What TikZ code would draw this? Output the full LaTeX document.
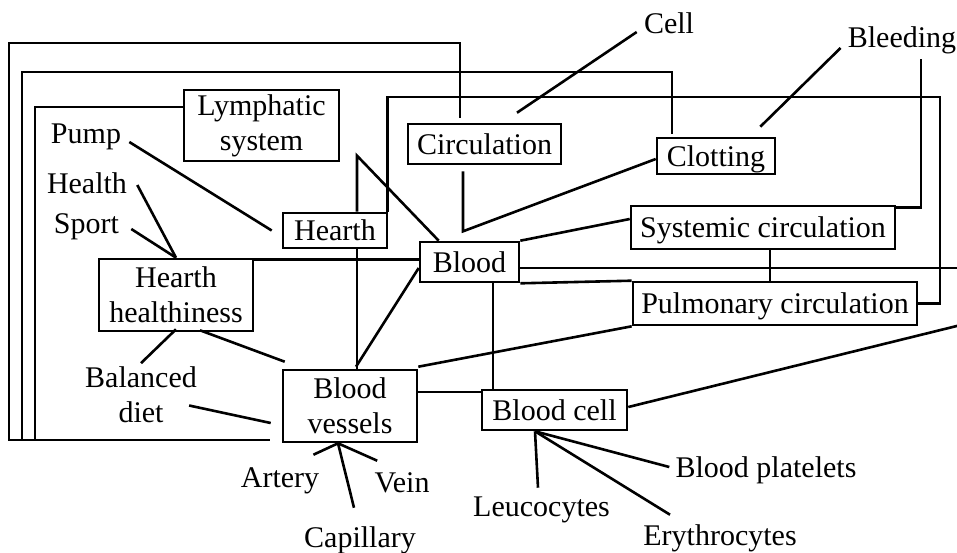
\documentclass[tikz,border=0pt]{standalone}
\usepackage{fontspec}
\setmainfont{Liberation Serif}
\usetikzlibrary{calc}

\begin{document}
\begin{tikzpicture}[x=0.5pt,y=-0.5pt,line width=1.3pt,
  box/.style={draw,line width=1.3pt,align=center,inner sep=0pt,font=\fontsize{15}{17.5}\selectfont},
  one/.style={text height=10pt,text depth=0pt},
  lbl/.style={inner sep=0pt,align=center,font=\fontsize{15}{17.5}\selectfont}]
\useasboundingbox (0,0) rectangle (957,552);

% boxes
\node[box,minimum width=77.5pt,minimum height=35.5pt] (lymph) at (261.5,125.5) {Lymphatic\\system};
\node[box,one,minimum width=76.5pt,minimum height=20pt] (circ) at (484.5,144) {Circulation};
\node[box,one,minimum width=59pt,minimum height=18pt] (clot) at (716,156) {Clotting};
\node[box,one,minimum width=52pt,minimum height=17.5pt] (hearth) at (335,230.5) {Hearth};
\node[box,one,minimum width=132pt,minimum height=21.5pt] (syst) at (763,227.5) {Systemic circulation};
\node[box,one,minimum width=49.5pt,minimum height=20pt] (blood) at (469.5,262) {Blood};
\node[box,minimum width=77pt,minimum height=36pt] (hh) at (176,295) {Hearth\\healthiness};
\node[box,one,minimum width=142pt,minimum height=21.5pt] (pulm) at (775,303.5) {Pulmonary circulation};
\node[box,minimum width=67pt,minimum height=36pt] (vess) at (350,406) {Blood\\vessels};
\node[box,one,minimum width=72.5pt,minimum height=20pt] (bcell) at (554.5,410) {Blood cell};

% plain words
\node[lbl,one,anchor=base] (cell) at (669,33) {Cell};
\node[lbl,one,anchor=base] (bleed) at (902,47) {Bleeding};
\node[lbl,one,anchor=base] (pump) at (86,143) {Pump};
\node[lbl,one,anchor=base] (health) at (87,193) {Health};
\node[lbl,one,anchor=base] (sport) at (86.5,233) {Sport};
\node[lbl] (diet) at (141,394.5) {Balanced\\diet};
\node[lbl,one,anchor=base] (artery) at (280,487) {Artery};
\node[lbl,one,anchor=base] (vein) at (402,492) {Vein};
\node[lbl,one,anchor=base] (capil) at (360,547) {Capillary};
\node[lbl,one,anchor=base] (leuco) at (541.5,516) {Leucocytes};
\node[lbl,one,anchor=base] (ery) at (720,545) {Erythrocytes};
\node[lbl,one,anchor=base] (plate) at (766,477) {Blood platelets};

\coordinate (loopend) at (270,440);
\coordinate (eastA) at (960,268);
\coordinate (eastB) at (960,325.2);

% long frames on the left
\draw ([xshift=-12.25pt,yshift=2.5pt]circ.north) |- (9,43) |- (loopend);
\draw ([xshift=-22pt,yshift=1.5pt]clot.north) |- (22,72) |- (loopend);
\draw ([yshift=9.25pt]lymph.west) -- (35,107) |- (loopend);
\draw ([xshift=-0.5pt]hearth.north east) |- (940,97) |- (pulm.east);
\draw ([xshift=9.5pt,yshift=-5.5pt]bleed.south) |- ([yshift=-1.5pt]syst.north east);

% hearth and blood
\draw ([xshift=11pt]hearth.north) -- ++(0,-56) -- ([xshift=10pt]blood.north west);
\draw ([xshift=11pt]hearth.south) -- ([xshift=11pt]hearth.south |- vess.north);
\draw ([xshift=3pt,yshift=1pt]vess.north) -- ([yshift=-3pt]blood.west);
\draw ([xshift=3.5pt,yshift=-4.5pt]pump.east) -- ([xshift=-5pt]hearth.west);
\draw ([xshift=4.5pt,yshift=-1pt]health.east) -- (hh.north);
\draw ([xshift=5.5pt,yshift=-3pt]sport.east) -- (hh.north);
\draw ([yshift=-1pt]hh.north east) -- ([yshift=-1pt]hh.north east -| blood.west);
\draw ([yshift=1.5pt]hh.south) -- ([yshift=1pt]diet.north);
\draw ([xshift=12pt,yshift=1pt]hh.south) -- ([xshift=1.5pt,yshift=3.5pt]vess.north west);
\draw ([xshift=-4.5pt,yshift=-5.5pt]diet.east) -- ([xshift=-5.5pt,yshift=-8.5pt]vess.west);
\draw ([yshift=7pt]vess.east) -- ([yshift=7pt]vess.east -| bcell.west);
\draw ([yshift=1pt]vess.north east) -- (pulm.south west);
\draw ([xshift=11.75pt]blood.south) -- ([xshift=11.75pt]blood.south |- bcell.north);
\draw (blood.north east) -- ([yshift=4.25pt]syst.west);
\draw ([yshift=-3pt]blood.east) -- (eastA);
\draw (blood.south east) -- (pulm.north west);
\draw ([xshift=3.5pt]syst.south) -- ([xshift=3.5pt]syst.south |- pulm.north);
\draw ([xshift=-10.75pt,yshift=-3pt]circ.south) -- ++(0,60) -- ([yshift=-1.5pt]clot.west);
\draw ([xshift=-3pt,yshift=-4.5pt]cell.west) -- ([xshift=16.25pt,yshift=5pt]circ.north);
\draw ([xshift=-3pt,yshift=-5.5pt]bleed.west) -- ([xshift=-8pt,yshift=5pt]clot.north east);

% fans
\draw ([xshift=-3.5pt,yshift=5.5pt]artery.north east) -- ([xshift=-6pt]vess.south)
  -- ([xshift=2pt,yshift=5pt]vein.north west);
\draw ([xshift=-6pt]vess.south) -- ([xshift=-3pt,yshift=9pt]capil.north);
\draw ([xshift=-9.75pt]bcell.south) -- ([xshift=-1.75pt,yshift=3.5pt]leuco.north);
\draw ([xshift=-9.75pt]bcell.south) -- ([xshift=-25pt,yshift=4.5pt]ery.north);
\draw ([xshift=-9.75pt]bcell.south) -- ([xshift=-2.5pt]plate.west);
\draw ([yshift=1.5pt]bcell.east) -- (eastB);
\end{tikzpicture}
\end{document}
